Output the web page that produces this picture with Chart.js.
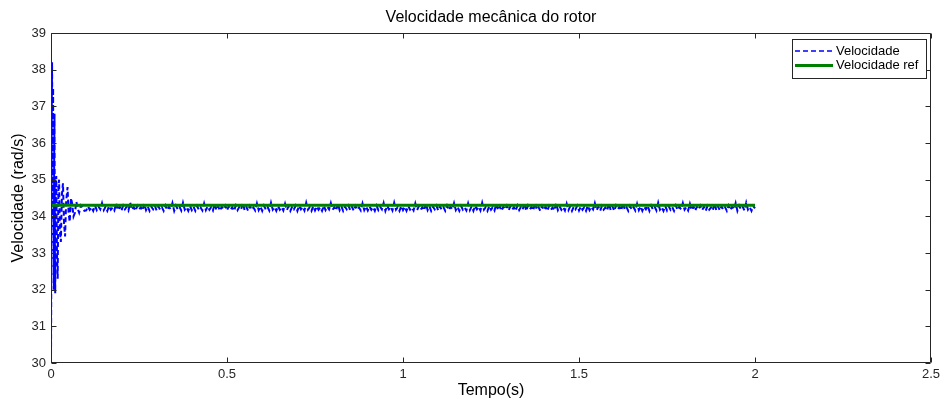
<!DOCTYPE html>
<html>
<head>
<meta charset="utf-8">
<script src="https://cdn.jsdelivr.net/npm/chart.js@4.4.1/dist/chart.umd.min.js"></script>
<style>
  html, body { margin: 0; padding: 0; background: #fff; }
  #wrap { width: 941px; height: 401px; }
</style>
</head>
<body>
<div id="wrap"><canvas id="c" width="941" height="401"></canvas></div>
<script>
// ---- data ----
const chartTitle = "Velocidade mecânica do rotor";
const xLabel = "Tempo(s)";
const yLabel = "Velocidade (rad/s)";
const seriesNames = ["Velocidade", "Velocidade ref"];

const xTicks = [0, 0.5, 1, 1.5, 2, 2.5];
const yTicks = [30, 31, 32, 33, 34, 35, 36, 37, 38, 39];

// start-up transient (time in s, speed in rad/s)
const transientTime = [0, 0.001, 0.002, 0.003, 0.004, 0.005, 0.006, 0.007, 0.008, 0.009, 0.010,
  0.011, 0.012, 0.013, 0.015, 0.017, 0.019, 0.021, 0.023, 0.025, 0.028, 0.031, 0.034, 0.037,
  0.040, 0.043, 0.047, 0.050, 0.053, 0.057, 0.060, 0.064, 0.068, 0.072, 0.076, 0.080, 0.085,
  0.090, 0.095];
const transientSpeed = [30.0, 33.0, 36.5, 38.2, 36.0, 34.0, 37.5, 33.0, 32.0, 35.5, 36.8,
  33.0, 31.9, 34.2, 35.1, 33.0, 32.3, 34.8, 35.0, 33.6, 33.3, 34.6, 34.9, 33.8,
  33.45, 34.4, 34.8, 34.1, 33.85, 34.5, 34.35, 34.0, 34.1, 34.4, 34.2, 34.1, 34.3,
  34.25, 34.15];

// steady-state ripple, sampled every 0.005 s from 0.100 s to 2.000 s
const steadyStart = 0.10;
const steadyStep = 0.005;
const steadySpeed = [
  34.16,34.27,34.18,34.25,34.15,34.29,34.17,34.26,34.19,34.36,
  34.17,34.26,34.15,34.28,34.18,34.24,34.16,34.35,34.17,34.27,
  34.15,34.29,34.19,34.26,34.16,34.37,34.18,34.25,34.15,34.28,
  34.18,34.25,34.16,34.34,34.17,34.27,34.15,34.26,34.19,34.29,
  34.16,34.27,34.18,34.25,34.15,34.29,34.17,34.26,34.19,34.36,
  34.15,34.29,34.19,34.26,34.16,34.37,34.18,34.25,34.15,34.28,
  34.17,34.26,34.15,34.28,34.18,34.24,34.16,34.35,34.17,34.27,
  34.18,34.25,34.16,34.34,34.17,34.27,34.15,34.26,34.19,34.29,
  34.16,34.27,34.18,34.25,34.15,34.29,34.17,34.26,34.19,34.36,
  34.17,34.26,34.15,34.28,34.18,34.24,34.16,34.35,34.17,34.27,
  34.15,34.29,34.19,34.26,34.16,34.37,34.18,34.25,34.15,34.28,
  34.18,34.25,34.16,34.34,34.17,34.27,34.15,34.26,34.19,34.29,
  34.15,34.29,34.19,34.26,34.16,34.37,34.18,34.25,34.15,34.28,
  34.16,34.27,34.18,34.25,34.15,34.29,34.17,34.26,34.19,34.36,
  34.18,34.25,34.16,34.34,34.17,34.27,34.15,34.26,34.19,34.29,
  34.17,34.26,34.15,34.28,34.18,34.24,34.16,34.35,34.17,34.27,
  34.16,34.27,34.18,34.25,34.15,34.29,34.17,34.26,34.19,34.36,
  34.15,34.29,34.19,34.26,34.16,34.37,34.18,34.25,34.15,34.28,
  34.17,34.26,34.15,34.28,34.18,34.24,34.16,34.35,34.17,34.27,
  34.18,34.25,34.16,34.34,34.17,34.27,34.15,34.26,34.19,34.29,
  34.16,34.27,34.18,34.25,34.15,34.29,34.17,34.26,34.19,34.36,
  34.17,34.26,34.15,34.28,34.18,34.24,34.16,34.35,34.17,34.27,
  34.15,34.29,34.19,34.26,34.16,34.37,34.18,34.25,34.15,34.28,
  34.18,34.25,34.16,34.34,34.17,34.27,34.15,34.26,34.19,34.29,
  34.16,34.27,34.18,34.25,34.15,34.29,34.17,34.26,34.19,34.36,
  34.15,34.29,34.19,34.26,34.16,34.37,34.18,34.25,34.15,34.28,
  34.17,34.26,34.15,34.28,34.18,34.24,34.16,34.35,34.17,34.27,
  34.18,34.25,34.16,34.34,34.17,34.27,34.15,34.26,34.19,34.29,
  34.16,34.27,34.18,34.25,34.15,34.29,34.17,34.26,34.19,34.36,
  34.17,34.26,34.15,34.28,34.18,34.24,34.16,34.35,34.17,34.27,
  34.15,34.29,34.19,34.26,34.16,34.37,34.18,34.25,34.15,34.28,
  34.18,34.25,34.16,34.34,34.17,34.27,34.15,34.26,34.19,34.29,
  34.15,34.29,34.19,34.26,34.16,34.37,34.18,34.25,34.15,34.28,
  34.16,34.27,34.18,34.25,34.15,34.29,34.17,34.26,34.19,34.36,
  34.18,34.25,34.16,34.34,34.17,34.27,34.15,34.26,34.19,34.29,
  34.17,34.26,34.15,34.28,34.18,34.24,34.16,34.35,34.17,34.27,
  34.16,34.27,34.18,34.25,34.15,34.29,34.17,34.26,34.19,34.36,
  34.15,34.29,34.19,34.26,34.16,34.37,34.18,34.25,34.15,34.28,
  34.22
];

const refTime = [0, 2.0];
const refSpeed = [34.3, 34.3];

// ---- build datasets ----
const speedPoints = transientTime.map((t, i) => ({ x: t, y: transientSpeed[i] }))
  .concat(steadySpeed.map((v, i) => ({ x: +(steadyStart + i * steadyStep).toFixed(4), y: v })));
const refPoints = refTime.map((t, i) => ({ x: t, y: refSpeed[i] }));

const FONT = "'Liberation Sans', Arial, Helvetica, sans-serif";
const FRAME = '#262626';

const framePlugin = {
  id: 'matlabFrame',
  afterDraw(chart) {
    const { ctx, chartArea: a, scales: { x, y } } = chart;
    const L = Math.round(a.left) + 0.5, R = Math.round(a.right) - 0.5;
    const T = Math.round(a.top) + 0.5, B = Math.round(a.bottom) - 0.5;
    ctx.save();
    ctx.strokeStyle = FRAME;
    ctx.lineWidth = 1;
    ctx.beginPath();
    ctx.rect(L, T, R - L, B - T);
    const tl = 5;
    xTicks.forEach(v => {
      const px = Math.round(x.getPixelForValue(v)) + 0.5;
      ctx.moveTo(px, B); ctx.lineTo(px, B - tl);
      ctx.moveTo(px, T); ctx.lineTo(px, T + tl);
    });
    yTicks.forEach(v => {
      const py = Math.round(y.getPixelForValue(v)) + 0.5;
      ctx.moveTo(L, py); ctx.lineTo(L + tl, py);
      ctx.moveTo(R, py); ctx.lineTo(R - tl, py);
    });
    ctx.stroke();

    // title, centred over the axes
    ctx.fillStyle = '#000';
    ctx.font = "16px " + FONT;
    ctx.textAlign = 'center';
    ctx.textBaseline = 'middle';
    ctx.fillText(chartTitle, (a.left + a.right) / 2, 18);

    // legend box (MATLAB style, inside the axes, top-right)
    const bx = 792.5, by = 39.5, bw = 134, bh = 39;
    ctx.fillStyle = '#fff';
    ctx.fillRect(bx, by, bw, bh);
    ctx.strokeStyle = FRAME;
    ctx.strokeRect(bx, by, bw, bh);
    const rows = [
      { y: 51, color: 'rgb(0,0,255)', width: 1.5, dash: [5, 3] },
      { y: 65.5, color: 'rgb(0,128,0)', width: 3, dash: [] }
    ];
    ctx.font = "13px " + FONT;
    ctx.textBaseline = 'middle';
    ctx.textAlign = 'left';
    rows.forEach((r, i) => {
      ctx.beginPath();
      ctx.setLineDash(r.dash);
      ctx.strokeStyle = r.color;
      ctx.lineWidth = r.width;
      ctx.moveTo(795, r.y); ctx.lineTo(833, r.y);
      ctx.stroke();
      ctx.setLineDash([]);
      ctx.fillStyle = '#000';
      ctx.fillText(seriesNames[i], 836, r.y);
    });
    ctx.restore();
  }
};

new Chart(document.getElementById('c'), {
  type: 'line',
  data: {
    datasets: [
      {
        label: seriesNames[0],
        data: speedPoints,
        borderColor: 'rgb(0,0,255)',
        borderWidth: 2,
        borderDash: [5, 3],
        pointRadius: 0,
        tension: 0,
        fill: false,
        order: 1
      },
      {
        label: seriesNames[1],
        data: refPoints,
        borderColor: 'rgb(0,128,0)',
        borderWidth: 3,
        pointRadius: 0,
        tension: 0,
        fill: false,
        order: 0
      }
    ]
  },
  options: {
    responsive: false,
    animation: false,
    devicePixelRatio: 1,
    layout: { padding: { left: 0, right: 10, top: 33, bottom: 0 } },
    plugins: {
      legend: { display: false },
      tooltip: { enabled: false },
      title: { display: false }
    },
    scales: {
      x: {
        type: 'linear',
        min: 0, max: 2.5,
        afterBuildTicks: s => { s.ticks = xTicks.map(v => ({ value: v })); },
        afterFit: s => { s.height = 38; s.paddingLeft = 0; s.paddingRight = 0; },
        grid: { display: false, drawTicks: false },
        border: { display: false },
        ticks: { color: '#262626', padding: 4, font: { family: FONT, size: 13 }, maxRotation: 0,
                 callback: v => String(v) },
        title: {
          display: true, text: xLabel, color: '#000',
          font: { family: FONT, size: 16 }, padding: { top: 0, bottom: 1 }
        }
      },
      y: {
        type: 'linear',
        min: 30, max: 39,
        afterBuildTicks: s => { s.ticks = yTicks.map(v => ({ value: v })); },
        afterFit: s => { s.width = 51; },
        grid: { display: false, drawTicks: false },
        border: { display: false },
        ticks: { color: '#262626', padding: 5, font: { family: FONT, size: 13 },
                 callback: v => String(v) },
        title: {
          display: true, text: yLabel, color: '#000',
          font: { family: FONT, size: 16 }, padding: { top: 9, bottom: 0 }
        }
      }
    }
  },
  plugins: [framePlugin]
});
</script>
</body>
</html>
